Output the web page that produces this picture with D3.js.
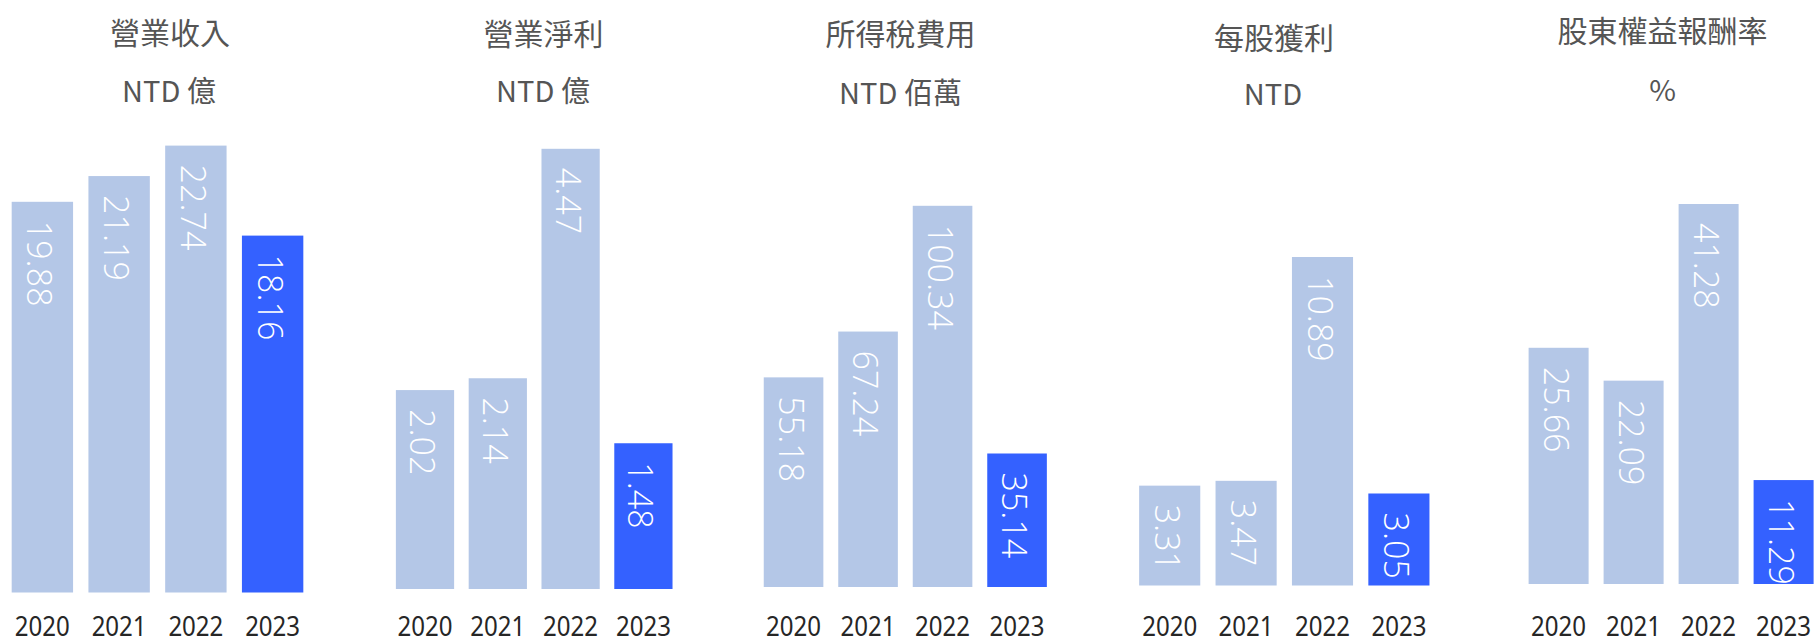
<!DOCTYPE html>
<html>
<head>
<meta charset="utf-8">
<script src="https://cdn.jsdelivr.net/npm/d3@7"></script>
<style>
  html, body { margin: 0; padding: 0; background: #ffffff; }
  svg { display: block; }
</style>
</head>
<body>
<svg id="chart" width="1818" height="643"></svg>
<script>
// ---- data ----
const years = ["2020", "2021", "2022", "2023"];
const titles = ["營業收入", "營業淨利", "所得稅費用", "每股獲利", "股東權益報酬率"];
const units = ["NTD 億", "NTD 億", "NTD 佰萬", "NTD", "%"];
const revenue = [19.88, 21.19, 22.74, 18.16];
const operatingProfit = [2.02, 2.14, 4.47, 1.48];
const incomeTax = [55.18, 67.24, 100.34, 35.14];
const eps = [3.31, 3.47, 10.89, 3.05];
const roe = [25.66, 22.09, 41.28, 11.29];
const highlightYear = "2023";

// ---- layout (positions only) ----
const panels = [
  { values: revenue,         x: [4, 311],        base: 592.5, top: 145.6, tx: 170,    ty: 31, ux: 169,    uy: 89 },
  { values: operatingProfit, x: [388.6, 679.8],  base: 589,   top: 148.8, tx: 543.5,  ty: 32, ux: 543,    uy: 89 },
  { values: incomeTax,       x: [756.3, 1054.3], base: 587,   top: 205.8, tx: 900.5,  ty: 32, ux: 900.5,  uy: 91 },
  { values: eps,             x: [1131.5, 1437.1], base: 585.5, top: 257,  tx: 1274,   ty: 36, ux: 1273,   uy: 92 },
  { values: roe,             x: [1521.1, 1821.1], base: 584,   top: 204,  tx: 1662.5, ty: 29, ux: 1662.5, uy: 88 }
];

const colorLight = "#b4c7e7";
const colorHigh = "#3461ff";
const fmt = d3.format(".2f");

const svg = d3.select("#chart");

panels.forEach((p, i) => {
  const g = svg.append("g");
  const x = d3.scaleBand().domain(years).range(p.x).paddingInner(0.2).paddingOuter(0.1);
  const y = d3.scaleLinear().domain([0, d3.max(p.values)]).range([p.base, p.top]);
  const data = years.map((yr, k) => ({ year: yr, value: p.values[k] }));

  g.selectAll("rect").data(data).join("rect")
    .attr("x", d => x(d.year))
    .attr("width", x.bandwidth())
    .attr("y", d => y(d.value))
    .attr("height", d => y(0) - y(d.value))
    .attr("fill", d => d.year === highlightYear ? colorHigh : colorLight);

  g.selectAll("text.val").data(data).join("text")
    .attr("class", "val")
    .attr("transform", d => `translate(${x(d.year) + x.bandwidth() / 2 - 2},${y(d.value) + 19}) rotate(90)`)
    .attr("text-anchor", "start")
    .attr("dominant-baseline", "central")
    .attr("fill", "#ffffff")
    .style("font-family", "'Open Sans', 'Noto Sans', sans-serif")
    .style("font-weight", 300)
    .style("font-size", "34px")
    .text(d => fmt(d.value));

  // year axis labels
  const axis = d3.axisBottom(x).tickSize(0).tickPadding(0);
  const ax = g.append("g").attr("transform", `translate(0,${636})`).call(axis);
  ax.select(".domain").remove();
  ax.selectAll("text")
    .attr("y", 0).attr("dy", 0)
    .attr("fill", "#262626")
    .attr("textLength", 55)
    .attr("lengthAdjust", "spacingAndGlyphs")
    .style("font-family", "'Noto Sans', sans-serif")
    .style("font-size", "27px");

  g.append("text")
    .attr("x", p.tx).attr("y", p.ty)
    .attr("text-anchor", "middle").attr("dominant-baseline", "central")
    .attr("fill", "#555555")
    .style("font-family", "'Noto Sans CJK TC', sans-serif")
    .style("font-size", "30px")
    .text(titles[i]);

  g.append("text")
    .attr("x", p.ux).attr("y", p.uy)
    .attr("text-anchor", "middle").attr("dominant-baseline", "central")
    .attr("fill", "#555555")
    .style("font-family", "'Noto Sans CJK TC', sans-serif")
    .style("font-size", "29px")
    .text(units[i]);
});
</script>
</body>
</html>
